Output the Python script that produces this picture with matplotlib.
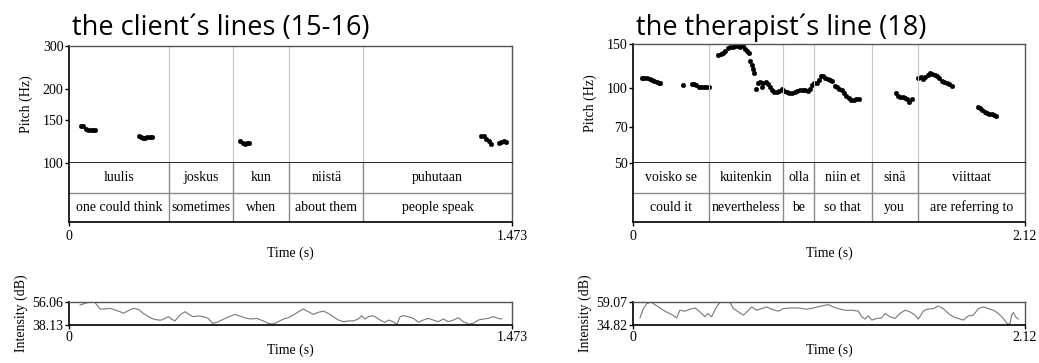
import matplotlib
matplotlib.use('Agg')
import matplotlib.pyplot as plt
from matplotlib.ticker import NullLocator

# ---- client (left) ----
client_end = 1.473
client_bounds = [0.3335, 0.546, 0.7325, 0.9786]
client_words = ['luulis', 'joskus', 'kun', 'niistä', 'puhutaan']
client_gloss = ['one could think', 'sometimes', 'when', 'about them', 'people speak']
client_pitch_ticks = [100, 150, 200, 300]

client_pitch_t = [0.039, 0.048, 0.056, 0.064, 0.072, 0.081, 0.087,
                  0.234, 0.240, 0.247, 0.254, 0.261, 0.269, 0.277,
                  0.570, 0.577, 0.585, 0.592, 0.599,
                  1.371, 1.379, 1.388, 1.395, 1.402, 1.430, 1.437, 1.445, 1.454]
client_pitch_hz = [141.9, 141.0, 137.9, 135.8, 135.8, 135.8, 135.8,
                   129.2, 127.6, 126.0, 126.8, 127.6, 127.6, 127.6,
                   122.5, 120.6, 119.9, 120.2, 120.6,
                   128.4, 128.4, 125.2, 122.5, 119.9, 120.6, 121.7, 122.5, 121.7]

client_int_t = [0.037, 0.053, 0.070, 0.086, 0.103, 0.120, 0.136, 0.153, 0.170, 0.181,
                0.197, 0.214, 0.231, 0.247, 0.264, 0.280, 0.297, 0.308, 0.323, 0.330,
                0.341, 0.352, 0.369, 0.386, 0.402, 0.413, 0.430, 0.447, 0.463, 0.478,
                0.491, 0.508, 0.524, 0.541, 0.552, 0.574, 0.591, 0.607, 0.624, 0.646,
                0.663, 0.679, 0.696, 0.713, 0.729, 0.746, 0.763, 0.779, 0.796, 0.812,
                0.829, 0.846, 0.862, 0.879, 0.896, 0.912, 0.929, 0.945, 0.962, 0.973,
                0.984, 0.995, 1.012, 1.029, 1.040, 1.051, 1.062, 1.078, 1.090, 1.101,
                1.112, 1.128, 1.145, 1.162, 1.178, 1.195, 1.211, 1.228, 1.245, 1.261,
                1.278, 1.295, 1.311, 1.328, 1.344, 1.361, 1.378, 1.394, 1.411, 1.428, 1.439]
client_int_db = [53.7, 55.0, 56.0, 55.8, 50.6, 50.6, 51.1, 49.8, 48.5, 47.2,
                 49.3, 51.1, 50.3, 47.2, 44.6, 42.8, 42.0, 42.0, 43.8, 44.6,
                 42.8, 41.3, 45.9, 48.5, 45.9, 44.6, 45.2, 44.6, 43.3, 39.4,
                 40.2, 42.0, 43.8, 45.4, 46.4, 44.6, 43.3, 42.8, 43.3, 41.3,
                 39.4, 38.9, 40.7, 42.8, 43.8, 45.9, 48.5, 50.6, 48.5, 46.4,
                 48.0, 49.0, 47.2, 44.6, 42.0, 40.7, 41.3, 41.3, 42.8, 45.4,
                 42.8, 44.6, 45.4, 42.8, 41.3, 40.2, 42.0, 40.7, 38.6, 44.6,
                 45.4, 44.6, 43.3, 40.2, 42.0, 43.3, 42.0, 40.7, 42.8, 40.7,
                 42.0, 43.8, 40.7, 38.9, 39.4, 42.0, 42.8, 43.3, 44.6, 43.3, 42.8]

# ---- therapist (right) ----
ther_end = 2.12
ther_bounds = [0.4127, 0.813, 0.979, 1.291, 1.540]
ther_words = ['voisko se', 'kuitenkin', 'olla', 'niin et', 'sinä', 'viittaat']
ther_gloss = ['could it', 'nevertheless', 'be', 'so that', 'you', 'are referring to']
ther_pitch_ticks = [50, 70, 100, 150]

ther_pitch_t = [0.047, 0.061, 0.076, 0.090, 0.103, 0.115, 0.128, 0.139, 0.148,
                0.272,
                0.317, 0.330, 0.343, 0.355, 0.368, 0.382, 0.396, 0.411,
                0.461, 0.474, 0.487, 0.499, 0.512, 0.525, 0.539, 0.553, 0.568, 0.580,
                0.593, 0.606, 0.615, 0.626, 0.635, 0.642, 0.649, 0.656, 0.663,
                0.674, 0.687, 0.696, 0.705, 0.718, 0.728, 0.739, 0.750, 0.763, 0.777,
                0.791, 0.806, 0.818, 0.831, 0.845, 0.860, 0.874, 0.889, 0.903, 0.918,
                0.932, 0.946, 0.957, 0.968, 0.981, 0.993, 1.004, 1.015, 1.028, 1.040,
                1.053, 1.065, 1.078, 1.091, 1.103, 1.116, 1.129, 1.141, 1.154, 1.166,
                1.179, 1.193, 1.208, 1.220,
                1.421, 1.433, 1.446, 1.458, 1.471, 1.484, 1.495, 1.507,
                1.543, 1.556, 1.568, 1.581, 1.594, 1.606, 1.619, 1.631, 1.644, 1.657,
                1.669, 1.682, 1.696, 1.711, 1.723,
                1.864, 1.877, 1.889, 1.902, 1.914, 1.927, 1.940, 1.952, 1.965]
ther_pitch_hz = [110.0, 109.6, 109.3, 108.6, 107.9, 106.6, 105.3, 104.3, 105.0,
                 103.0,
                 103.6, 103.3, 102.7, 101.2, 100.6, 100.6, 100.9, 101.2,
                 135.5, 136.2, 138.4, 141.0, 144.1, 145.5, 146.4, 147.7, 147.2, 146.4,
                 147.2, 142.8, 140.6, 138.4, 128.2, 123.6, 118.7, 115.1, 99.0,
                 105.0, 106.0, 101.2, 105.0, 106.0, 103.9, 101.2, 98.1, 96.6, 96.6,
                 97.5, 98.7, 97.5, 96.3, 95.7, 95.7, 96.6, 97.2, 97.8, 98.1,
                 98.1, 97.5, 99.0, 103.0, 104.3, 105.0, 107.6, 111.6, 111.6, 110.0,
                 108.3, 107.6, 106.9, 102.1, 100.6, 99.3, 98.1, 95.7, 93.1, 91.1,
                 89.7, 89.4, 90.0, 90.5,
                 95.1, 93.1, 91.7, 91.7, 91.4, 90.5, 88.1, 90.5,
                 110.0, 110.3, 108.6, 111.0, 113.0, 114.4, 114.0, 113.0, 111.6, 110.0,
                 107.0, 105.3, 104.6, 104.0, 102.1,
                 83.8, 82.8, 81.6, 80.1, 79.3, 78.8, 78.3, 77.6, 77.2]

ther_int_t = [0.038, 0.056, 0.074, 0.097, 0.119, 0.146, 0.173, 0.209, 0.236, 0.254,
              0.281, 0.308, 0.335, 0.362, 0.389, 0.404, 0.425, 0.452, 0.470, 0.498,
              0.525, 0.543, 0.570, 0.597, 0.624, 0.642, 0.669, 0.696, 0.723, 0.750,
              0.786, 0.813, 0.858, 0.894, 0.939, 0.975, 1.020, 1.056, 1.083, 1.110,
              1.147, 1.183, 1.219, 1.237, 1.255, 1.273, 1.291, 1.318, 1.345, 1.363,
              1.390, 1.417, 1.444, 1.471, 1.498, 1.525, 1.543, 1.570, 1.588, 1.624,
              1.651, 1.678, 1.705, 1.732, 1.759, 1.786, 1.814, 1.841, 1.868, 1.895,
              1.922, 1.949, 1.976, 2.003, 2.026, 2.039, 2.048, 2.057, 2.069, 2.084]
ther_int_db = [42.4, 52.1, 57.3, 59.0, 56.3, 52.8, 49.4, 45.9, 42.4, 50.4,
               49.4, 51.4, 52.8, 48.7, 43.5, 47.0, 43.5, 53.9, 58.4, 59.0,
               58.4, 52.1, 48.7, 45.2, 50.4, 53.9, 50.4, 52.1, 53.9, 51.4,
               49.4, 52.1, 52.8, 52.8, 51.4, 52.8, 54.9, 56.3, 53.9, 52.1,
               50.4, 50.4, 49.4, 43.5, 41.1, 44.5, 40.0, 41.7, 42.4, 47.0,
               43.5, 41.7, 47.0, 50.4, 48.7, 45.2, 41.1, 49.4, 51.4, 52.1,
               54.9, 52.1, 47.0, 43.5, 41.7, 40.0, 44.5, 45.2, 52.1, 53.9,
               52.1, 50.4, 47.0, 41.7, 35.5, 36.5, 45.2, 48.0, 43.5, 41.1]

plt.rcParams['font.family'] = ['Liberation Serif', 'DejaVu Serif']
plt.rcParams['font.size'] = 10

W, H = 1039, 363
fig = plt.figure(figsize=(W / 100, H / 100), dpi=100)


def px_axes(x0, y0, x1, y1):
    """axes from pixel box (top-left origin)"""
    return fig.add_axes([x0 / W, 1 - y1 / H, (x1 - x0) / W, (y1 - y0) / H])


def style_box(ax):
    for side in ['left', 'bottom']:
        ax.spines[side].set_color('black')
        ax.spines[side].set_linewidth(1.2)
    for side in ['top', 'right']:
        ax.spines[side].set_color('#555555')
        ax.spines[side].set_linewidth(1.0)
    ax.tick_params(direction='out', length=3, width=1, pad=1, labelsize=10)


def draw_panel(x0, x1, y_top, title, end, bounds, words, gloss,
               pt, phz, pticks, it, idb, int_lo, int_hi):
    # pitch
    ax = px_axes(x0, y_top, x1, 163)
    ax.plot(pt, phz, 'o', color='black', ms=3.3, mec='black', mew=0.3)
    ax.set_yscale('log')
    ax.set_ylim(pticks[0], pticks[-1])
    ax.set_yticks(pticks)
    ax.set_yticklabels([str(v) for v in pticks])
    ax.yaxis.set_minor_locator(NullLocator())
    ax.set_xlim(0, end)
    ax.set_xticks([])
    for b in bounds:
        ax.axvline(b, color='#c8c8c8', lw=0.8)
    style_box(ax)
    ax.set_ylabel('Pitch (Hz)', fontsize=10, labelpad=7)

    # text tiers
    tx = px_axes(x0, 163, x1, 222)
    tx.set_xlim(0, end)
    tx.set_ylim(0, 2)
    tx.axhline(1, color='#888888', lw=1)
    for b in bounds:
        tx.axvline(b, color='#888888', lw=1)
    edges = [0] + bounds + [end]
    for i in range(len(words)):
        mid = (edges[i] + edges[i + 1]) / 2
        tx.text(mid, 1.5, words[i], ha='center', va='center', fontsize=10)
        tx.text(mid, 0.5, gloss[i], ha='center', va='center', fontsize=10)
    tx.set_yticks([])
    tx.set_xticks([0, end])
    tx.set_xticklabels(['0', str(end)])
    style_box(tx)
    tx.spines['top'].set_visible(False)
    tx.tick_params(axis='x', pad=3)
    tx.set_xlabel('Time (s)', fontsize=10, labelpad=2)

    # intensity
    ix = px_axes(x0, 302, x1, 325)
    ix.plot(it, idb, color='#777777', lw=0.8)
    ix.set_xlim(0, end)
    ix.set_ylim(int_lo, int_hi)
    ix.set_yticks([int_lo, int_hi])
    ix.set_yticklabels(['%.2f' % int_lo, '%.2f' % int_hi])
    ix.set_xticks([0, end])
    ix.set_xticklabels(['0', str(end)])
    style_box(ix)
    ix.tick_params(axis='x', pad=1)
    ix.set_xlabel('Time (s)', fontsize=10, labelpad=0)
    ix.set_ylabel('Intensity (dB)', fontsize=10, labelpad=3)

    fig.text((x0 + 3) / W, 1 - 35 / H, title, fontsize=19.5,
             family=['Open Sans', 'DejaVu Sans'], va='baseline', ha='left')


draw_panel(69, 512, 46, 'the client\u00b4s lines (15-16)', client_end, client_bounds,
           client_words, client_gloss, client_pitch_t, client_pitch_hz,
           client_pitch_ticks, client_int_t, client_int_db, 38.13, 56.06)
draw_panel(633, 1025, 44, 'the therapist\u00b4s line (18)', ther_end, ther_bounds,
           ther_words, ther_gloss, ther_pitch_t, ther_pitch_hz,
           ther_pitch_ticks, ther_int_t, ther_int_db, 34.82, 59.07)

fig.savefig('out.png', dpi=100)
